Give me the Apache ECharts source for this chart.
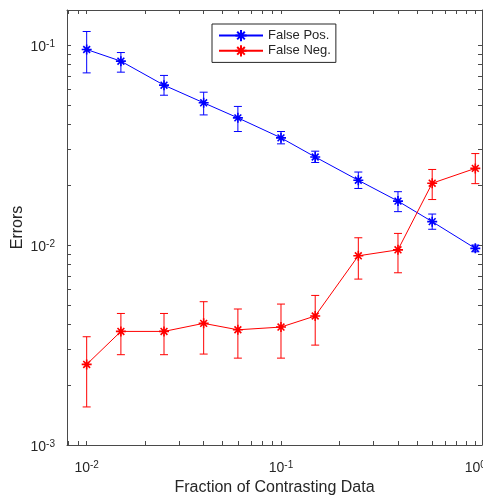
<!DOCTYPE html>
<html>
<head>
<meta charset="utf-8">
<script src="https://cdn.jsdelivr.net/npm/echarts@6/dist/echarts.min.js"></script>
<style>
  html, body { margin: 0; padding: 0; background: #fff; }
  #chart { width: 483px; height: 500px; }
</style>
</head>
<body>
<div id="chart"></div>
<script>
// Fraction of contrasting data used (x) and the resulting error rates (y)
const fractions = [0.01, 0.015, 0.025, 0.04, 0.06, 0.1, 0.15, 0.25, 0.4, 0.6, 1.0];

const falsePos     = [0.0952, 0.0832, 0.0631, 0.0515, 0.0433, 0.0344, 0.0276, 0.0211, 0.0166, 0.0131, 0.00963];
const falsePosLow  = [0.0727, 0.0733, 0.0562, 0.0448, 0.0370, 0.0321, 0.0259, 0.0192, 0.0147, 0.0120, 0.00926];
const falsePosHigh = [0.1171, 0.0919, 0.0706, 0.0582, 0.0494, 0.0370, 0.0295, 0.0232, 0.0185, 0.0143, 0.0100];

const falseNeg     = [0.00253, 0.00370, 0.00370, 0.00406, 0.00377, 0.00389, 0.00442, 0.00884, 0.00947, 0.0204, 0.0242];
const falseNegLow  = [0.00155, 0.00283, 0.00283, 0.00285, 0.00272, 0.00272, 0.00316, 0.00676, 0.00727, 0.0169, 0.0203];
const falseNegHigh = [0.00348, 0.00455, 0.00455, 0.00521, 0.00479, 0.00507, 0.00560, 0.01088, 0.01144, 0.0239, 0.0287];

const xMajorTicks = [0.01, 0.1, 1];
const yMajorTicks = [0.001, 0.01, 0.1];

// decade ticks plus the 2..9 minor positions inside the axis range
function logTicks(lo, hi) {
  const out = [];
  for (let e = Math.floor(Math.log10(lo)); e <= Math.ceil(Math.log10(hi)); e++) {
    for (let m = 1; m <= 9; m++) {
      const v = +(m * Math.pow(10, e)).toPrecision(6);
      if (v >= lo && v <= hi) out.push(v);
    }
  }
  return out;
}

const X_MIN = 0.00792, X_MAX = 1.0826;
const Y_MIN = 0.001, Y_MAX = 0.15;

const AXIS_COLOR = '#4a4a4a';
const TEXT_COLOR = '#262626';
const FONT = '"Liberation Sans", Arial, Helvetica, sans-serif';

function powerLabel(v) {
  const e = Math.round(Math.log10(v));
  return '{b|10}{s|' + e + '}';
}
const powerRich = {
  b: { fontSize: 14, fontFamily: FONT, color: TEXT_COLOR, lineHeight: 18, verticalAlign: 'bottom' },
  s: { fontSize: 10, fontFamily: FONT, color: TEXT_COLOR, lineHeight: 12, verticalAlign: 'bottom', padding: [0, 0, 5, 0] }
};

function axisBase(min, max, ticks, labels, showLabel) {
  return {
    type: 'log',
    logBase: 10,
    min: min,
    max: max,
    axisLine: { show: true, onZero: false, lineStyle: { color: AXIS_COLOR, width: 1 } },
    axisTick: { show: true, inside: true, length: 4, customValues: ticks, lineStyle: { color: AXIS_COLOR, width: 1 } },
    minorTick: { show: false },
    splitLine: { show: false },
    axisLabel: {
      show: showLabel,
      customValues: labels,
      formatter: powerLabel,
      rich: powerRich,
      margin: 12
    }
  };
}

const xTicks = logTicks(X_MIN, X_MAX);
const yTicks = logTicks(Y_MIN, Y_MAX);

const asterisk = 'path://M5,0L5,10M0,5L10,5M1.6,1.6L8.4,8.4M8.4,1.6L1.6,8.4';

function pairs(xs, ys) { return xs.map((x, i) => [x, ys[i]]); }
function triples(xs, lo, hi) { return xs.map((x, i) => [x, lo[i], hi[i]]); }

function errorBars(color) {
  return function (params, api) {
    const x = api.value(0);
    const pLo = api.coord([x, api.value(1)]);
    const pHi = api.coord([x, api.value(2)]);
    const cap = 4;
    const style = { stroke: color, lineWidth: 1 };
    return {
      type: 'group',
      children: [
        { type: 'line', shape: { x1: pLo[0], y1: pLo[1], x2: pHi[0], y2: pHi[1] }, style: style },
        { type: 'line', shape: { x1: pLo[0] - cap, y1: pLo[1], x2: pLo[0] + cap, y2: pLo[1] }, style: style },
        { type: 'line', shape: { x1: pHi[0] - cap, y1: pHi[1], x2: pHi[0] + cap, y2: pHi[1] }, style: style }
      ]
    };
  };
}

function lineSeries(name, color, values) {
  return {
    name: name,
    type: 'line',
    data: pairs(fractions, values),
    symbol: asterisk,
    symbolSize: 10,
    showAllSymbol: true,
    lineStyle: { color: color, width: 1 },
    itemStyle: { color: color, borderColor: color, borderWidth: 1.6 },
    emphasis: { disabled: true },
    animation: false,
    z: 3
  };
}

function barSeries(color, lo, hi) {
  return {
    type: 'custom',
    data: triples(fractions, lo, hi),
    encode: { x: 0, y: [1, 2] },
    renderItem: errorBars(color),
    silent: true,
    animation: false,
    z: 3
  };
}

const chart = echarts.init(document.getElementById('chart'), null, { renderer: 'canvas' });

chart.setOption({
  backgroundColor: '#ffffff',
  animation: false,
  textStyle: { fontFamily: FONT, color: TEXT_COLOR },
  grid: { left: 67, right: 1, top: 10, bottom: 55, containLabel: false, outerBoundsMode: 'none' },
  xAxis: [
    Object.assign(axisBase(X_MIN, X_MAX, xTicks, xMajorTicks, true), {
      position: 'bottom',
      name: 'Fraction of Contrasting Data',
      nameLocation: 'middle',
      nameGap: 35,
      nameMoveOverlap: false,
      nameTextStyle: { fontSize: 16, fontFamily: FONT, color: TEXT_COLOR }
    }),
    Object.assign(axisBase(X_MIN, X_MAX, xTicks, xMajorTicks, false), { position: 'top' })
  ],
  yAxis: [
    Object.assign(axisBase(Y_MIN, Y_MAX, yTicks, yMajorTicks, true), {
      position: 'left',
      name: 'Errors',
      nameLocation: 'middle',
      nameGap: 41,
      nameMoveOverlap: false,
      nameTextStyle: { fontSize: 16, fontFamily: FONT, color: TEXT_COLOR }
    }),
    Object.assign(axisBase(Y_MIN, Y_MAX, yTicks, yMajorTicks, false), { position: 'right' })
  ],
  legend: {
    orient: 'vertical',
    left: 212,
    top: 24,
    padding: [5, 5, 5, 6],
    itemGap: 2,
    itemWidth: 44,
    itemHeight: 14,
    backgroundColor: '#ffffff',
    borderColor: '#262626',
    borderWidth: 1,
    borderRadius: 0,
    textStyle: { fontSize: 13, fontFamily: FONT, color: TEXT_COLOR },
    data: ['False Pos.', 'False Neg.']
  },
  series: [
    lineSeries('False Pos.', '#0000ff', falsePos),
    barSeries('#0000ff', falsePosLow, falsePosHigh),
    lineSeries('False Neg.', '#ff0000', falseNeg),
    barSeries('#ff0000', falseNegLow, falseNegHigh)
  ]
});
</script>
</body>
</html>
